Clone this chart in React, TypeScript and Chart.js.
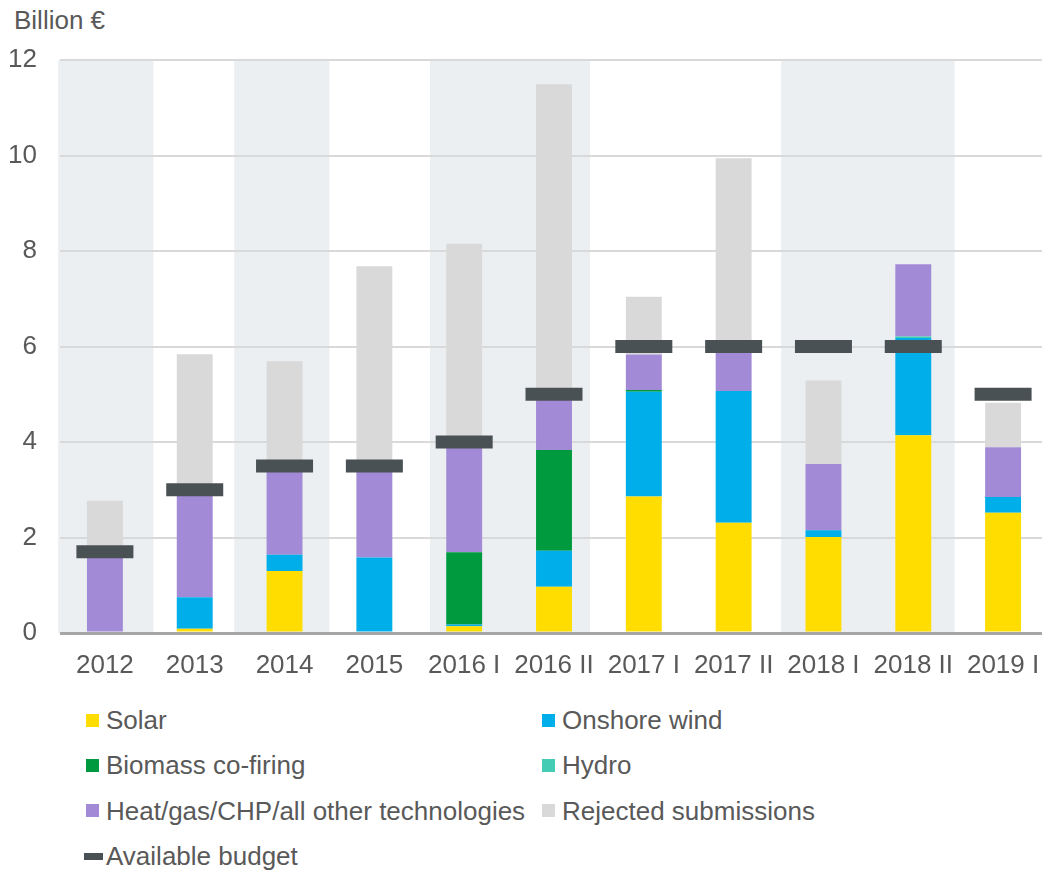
import React, { useEffect, useRef } from 'react';
import { Chart, registerables } from 'chart.js';

Chart.register(...registerables);

const categories = ['2012', '2013', '2014', '2015', '2016 I', '2016 II', '2017 I', '2017 II', '2018 I', '2018 II', '2019 I'];

const solar = [0, 0.09, 1.3, 0, 0.14, 0.97, 2.86, 2.31, 2.01, 4.14, 2.52];
const onshoreWind = [0, 0.66, 0.34, 1.58, 0.04, 0.75, 2.19, 2.76, 0.14, 2.04, 0.33];
const biomass = [0, 0, 0, 0, 1.51, 2.11, 0.04, 0, 0, 0, 0];
const hydro = [0, 0, 0, 0, 0, 0, 0, 0, 0, 0.03, 0];
const heatOther = [1.6, 2.15, 1.76, 1.82, 2.21, 1.07, 0.74, 0.83, 1.39, 1.51, 1.04];
const rejected = [1.17, 2.94, 2.29, 4.28, 4.25, 6.59, 1.21, 4.04, 1.75, 0, 0.93];
const budget = [1.7, 3, 3.5, 3.5, 4, 5, 6, 6, 6, 6, 5];

const yTicks = [0, 2, 4, 6, 8, 10, 12];
const unitLabel = 'Billion €';

const seriesNames = ['Solar', 'Onshore wind', 'Biomass co-firing', 'Hydro', 'Heat/gas/CHP/all other technologies', 'Rejected submissions'];
const seriesValues = [solar, onshoreWind, biomass, hydro, heatOther, rejected];
const seriesColors = ['#FFDD00', '#00AEEA', '#009A3E', '#45CCB5', '#A28AD6', '#D9D9D9'];
const budgetName = 'Available budget';
const budgetColor = '#4A5155';

// shaded category groups: [fromIndex, toIndex, leftPad, rightPad] (pads in category widths)
const bands: [number, number, number, number][] = [
  [0, 0, 0.52, 0.54],
  [2, 2, 0.56, 0.5],
  [4, 5, 0.38, 0.4],
  [8, 9, 0.47, 0.46],
];

const FONT = '"Liberation Sans", Arial, sans-serif';
const TEXT = '#595959';

const bandPlugin = {
  id: 'bands',
  beforeDraw(chart: any) {
    const { ctx, chartArea, scales } = chart;
    const x = scales.x;
    const w = x.getPixelForValue(1) - x.getPixelForValue(0);
    ctx.save();
    ctx.fillStyle = '#EBEFF2';
    bands.forEach(([a, b, pl, pr]) => {
      const left = x.getPixelForValue(a) - pl * w;
      const right = x.getPixelForValue(b) + pr * w;
      ctx.fillRect(left, chartArea.top, right - left, chartArea.bottom - chartArea.top);
    });
    ctx.restore();
  },
};

export default function App() {
  const ref = useRef<HTMLCanvasElement | null>(null);

  useEffect(() => {
    if (!ref.current) return;
    const datasets: any[] = [
      {
        type: 'line',
        label: budgetName,
        data: budget,
        showLine: false,
        pointStyle: 'line',
        pointRadius: 28.5,
        pointHoverRadius: 28.5,
        pointBorderWidth: 13,
        pointHoverBorderWidth: 13,
        pointBorderColor: budgetColor,
        pointBackgroundColor: budgetColor,
        borderColor: budgetColor,
        backgroundColor: budgetColor,
        stack: 'budget',
        order: 0,
        clip: false,
      },
      ...seriesNames.map((name, i) => ({
        type: 'bar',
        label: name,
        data: seriesValues[i],
        backgroundColor: seriesColors[i],
        borderWidth: 0,
        barPercentage: 0.4,
        categoryPercentage: 1,
        stack: 'main',
        order: 1,
      })),
    ];

    const chart = new Chart(ref.current, {
      type: 'bar',
      data: { labels: categories, datasets },
      plugins: [bandPlugin],
      options: {
        responsive: false,
        animation: false,
        events: [],
        layout: { autoPadding: false, padding: { top: 60, left: 0, right: 0, bottom: 0 } },
        plugins: { legend: { display: false }, tooltip: { enabled: false } },
        scales: {
          x: {
            stacked: true,
            offset: true,
            grid: { display: false, drawTicks: false },
            border: { display: false },
            ticks: {
              font: { family: FONT, size: 26 },
              color: TEXT,
              maxRotation: 0,
              minRotation: 0,
              autoSkip: false,
              padding: 17,
            },
            afterFit: (s: any) => {
              s.height = 67;
              s.paddingLeft = 0;
              s.paddingRight = 0;
            },
          },
          y: {
            stacked: true,
            min: 0,
            max: 12,
            grid: {
              drawTicks: false,
              color: (c: any) => (c.tick && c.tick.value === 0 ? '#A6A6A6' : '#D9D9D9'),
              lineWidth: (c: any) => (c.tick && c.tick.value === 0 ? 3 : 2),
            },
            border: { display: false },
            ticks: {
              font: { family: FONT, size: 26 },
              color: TEXT,
              padding: 23,
            },
            afterBuildTicks: (s: any) => {
              s.ticks = yTicks.map((v) => ({ value: v }));
            },
            afterFit: (s: any) => {
              s.width = 60;
              s.paddingTop = 0;
              s.paddingBottom = 0;
            },
          },
        },
      } as any,
    });
    return () => chart.destroy();
  }, []);

  const legendItems = [
    ...seriesNames.map((n, i) => ({ name: n, color: seriesColors[i], dash: false })),
    { name: budgetName, color: budgetColor, dash: true },
  ];
  const colX = [86, 542];
  const rowTop = 707;
  const rowStep = 45.4;

  return (
    <div style={{ position: 'absolute', left: 0, top: 0, width: 1042, height: 870, overflow: 'hidden', background: '#fff', fontFamily: FONT, color: TEXT }}>
      <div style={{ position: 'absolute', left: 14, top: 7, fontSize: 26, lineHeight: '26px', whiteSpace: 'nowrap' }}>{unitLabel}</div>
      <div style={{ position: 'absolute', left: 0, top: 0, width: 1048, height: 700 }}>
        <canvas ref={ref} width={1048} height={700} style={{ width: 1048, height: 700, display: 'block' }} />
      </div>
      {legendItems.map((it, i) => {
        const col = i % 2;
        const row = Math.floor(i / 2);
        return (
          <div
            key={it.name}
            style={{
              position: 'absolute',
              left: it.dash ? colX[col] - 2 : colX[col],
              top: rowTop + row * rowStep,
              height: 26,
              display: 'flex',
              alignItems: 'center',
              fontSize: 26,
              lineHeight: '26px',
              whiteSpace: 'nowrap',
            }}
          >
            {it.dash ? (
              <span style={{ display: 'inline-block', width: 19, height: 7, background: it.color, marginRight: 3 }} />
            ) : (
              <span style={{ display: 'inline-block', width: 13, height: 13, background: it.color, marginRight: 7 }} />
            )}
            <span>{it.name}</span>
          </div>
        );
      })}
    </div>
  );
}
